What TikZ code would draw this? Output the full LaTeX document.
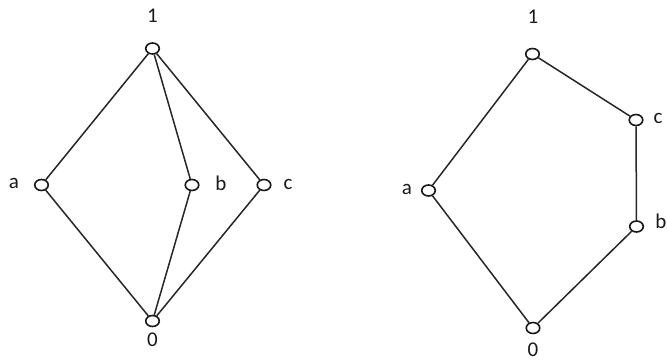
\documentclass[tikz,border=0pt]{standalone}
\usepackage{fontspec}
\setmainfont{Carlito}
\usetikzlibrary{shapes.geometric}
\begin{document}
\begin{tikzpicture}[x=1pt,y=-1pt,
  vtx/.style={draw=black!90, line width=1.6pt, ellipse, minimum width=13.5pt, minimum height=11pt, inner sep=0pt, fill=white},
  lbl/.style={font=\fontsize{21}{22}\selectfont, text=black!90, inner sep=0pt},
  edge/.style={draw=black!85, line width=1.5pt}]
\useasboundingbox (0,0) rectangle (667,362);
% first lattice: 1 over a, b, c over 0
\node[vtx] (L1) at (152.5,48.5) {};
\node[vtx] (La) at (41.5,185) {};
\node[vtx] (Lb) at (192,185) {};
\node[vtx] (Lc) at (264,185) {};
\node[vtx] (L0) at (152.5,321) {};
\node[lbl] (tL1) at (152.5,16) {1};
\node[lbl] (tLa) at (14,183) {a};
\node[lbl] (tLb) at (221,183) {b};
\node[lbl] (tLc) at (288,184) {c};
\node[lbl] (tL0) at (152.5,340) {0};
\draw[edge] (L1) -- (La);
\draw[edge] (L1) -- (Lb);
\draw[edge] (L1) -- (Lc);
\draw[edge] (La) -- (L0);
\draw[edge] (Lb) -- (L0);
\draw[edge] (Lc) -- (L0);
% second lattice: pentagon
\node[vtx] (R1) at (532.5,54) {};
\node[vtx] (Rc) at (636,120) {};
\node[vtx] (Ra) at (428.5,190.5) {};
\node[vtx] (Rb) at (636.5,226.5) {};
\node[vtx] (R0) at (533,328) {};
\node[lbl] (tR1) at (533,17) {1};
\node[lbl] (tRc) at (658,118) {c};
\node[lbl] (tRa) at (407,189) {a};
\node[lbl] (tRb) at (661,221) {b};
\node[lbl] (tR0) at (533,350) {0};
\draw[edge] (R1) -- (Ra);
\draw[edge] (R1) -- (Rc);
\draw[edge] (Rc) -- (Rb);
\draw[edge] (Ra) -- (R0);
\draw[edge] (Rb) -- (R0);
\end{tikzpicture}
\end{document}
